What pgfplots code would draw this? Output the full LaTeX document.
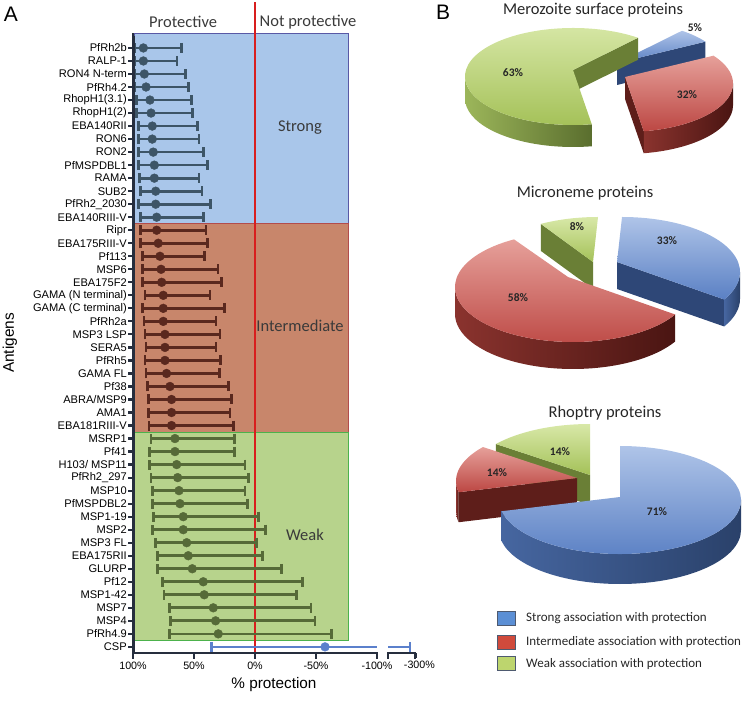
\documentclass[border=0pt]{standalone}
\usepackage{pgfplots}
\pgfplotsset{compat=1.18}
\usepackage{pgfplotstable}
\usetikzlibrary{calc}
\usepackage{fontspec}
\setmainfont{Liberation Sans}
\newfontfamily\calfont{Carlito}

\definecolor{axk}{HTML}{262E3E}
\definecolor{bgS}{HTML}{A9C6EA}
\definecolor{bgI}{HTML}{C8866B}
\definecolor{bgW}{HTML}{B7D38C}
\definecolor{mkS}{HTML}{3D5567}
\definecolor{mkI}{HTML}{5A281E}
\definecolor{mkW}{HTML}{566A38}
\definecolor{mkC}{HTML}{5B80CC}
\definecolor{redline}{HTML}{D81E1E}
\definecolor{txt}{HTML}{3A3A3A}
% pie colours
\definecolor{BT1}{HTML}{AFC4E8}\definecolor{BT2}{HTML}{5A80C4}
\definecolor{BS1}{HTML}{4666A0}\definecolor{BS2}{HTML}{2A416A}\definecolor{BF}{HTML}{2E4777}
\definecolor{RT1}{HTML}{E6A09A}\definecolor{RT2}{HTML}{BC4743}
\definecolor{RS1}{HTML}{8A332E}\definecolor{RS2}{HTML}{4A1512}\definecolor{RF}{HTML}{5E1E1A}
\definecolor{GT1}{HTML}{D8E8A8}\definecolor{GT2}{HTML}{A4C158}
\definecolor{GS1}{HTML}{9CB65A}\definecolor{GS2}{HTML}{5A6E2E}\definecolor{GF}{HTML}{6A7F36}
\definecolor{LB}{HTML}{5B8FD5}\definecolor{LR}{HTML}{D04A3C}\definecolor{LG}{HTML}{BDD56E}
\definecolor{LBd}{HTML}{4E5A70}

% % protection: y = row (46 = top), m = mean, l = upper protection bound, r = lower bound
\pgfplotstableread{
y m l r
46 91.5 99 60.0
45 91.5 99 64.0
44 90.7 99 57.0
43 89.3 99 54.5
42 86.1 97.0 52.0
41 85.2 97.0 51.4
40 84.2 95.6 47.0
39 84.2 95.6 45.9
38 83.4 95.6 42.1
37 82.5 95.6 38.8
36 82.5 94.8 45.9
35 81.4 93.7 43.4
34 81.4 95.6 36.3
33 80.6 93.7 42.1
}\strong
\pgfplotstableread{
y m l r
32 80.6 93.7 40.2
31 79.3 93.7 39.1
30 77.9 92.1 41.3
29 77.0 92.1 30.4
28 76.5 92.1 27.7
27 75.2 90.2 36.9
26 75.2 92.1 25.2
25 75.2 91.0 32.0
24 73.8 90.2 28.7
23 73.8 89.3 32.0
22 73.8 90.2 28.1
21 72.5 89.3 29.2
20 69.7 88.0 21.9
19 68.4 87.5 19.1
18 68.4 87.5 20.5
17 68.4 86.9 17.8
}\inter
\pgfplotstableread{
y m l r
16 65.6 85.2 17.0
15 65.6 86.6 17.0
14 64.2 86.6 8.2
13 63.4 85.2 5.5
12 62.3 84.2 8.2
11 61.5 84.2 6.3
10 58.8 83.4 -2.7
9 58.8 84.2 -8.8
8 56.0 81.4 -1.4
7 54.7 80.1 -6.0
6 51.4 80.1 -21.9
5 42.4 76.0 -38.8
4 41.6 74.6 -34.2
3 34.2 70.2 -45.9
2 32.3 69.1 -49.2
1 30.1 70.2 -62.9
}\weak
\pgfplotstableread{
y m
0 -57.4
}\csp

% pie helpers (coordinates in pixels, y downwards)
\newcommand{\ptop}[5]{\shade[top color=#5T1,bottom color=#5T2] (axis cs:#1,#2) -- ($(axis cs:{#1+\pOX},{#2+\pOY})+(#3:\pRX pt and \pRY pt)$) arc[start angle=#3,end angle=#4,x radius=\pRX pt,y radius=\pRY pt] -- cycle;}
\newcommand{\pside}[5]{\shade[left color=#5S1,right color=#5S2] ($(axis cs:{#1+\pOX},{#2+\pOY})+(#3:\pRX pt and \pRY pt)$) arc[start angle=#3,end angle=#4,x radius=\pRX pt,y radius=\pRY pt] -- ++(0,-\pH pt) arc[start angle=#4,end angle=#3,x radius=\pRX pt,y radius=\pRY pt] -- cycle;}
\newcommand{\pface}[4]{\fill[#4F] (axis cs:#1,#2) -- ($(axis cs:{#1+\pOX},{#2+\pOY})+(#3:\pRX pt and \pRY pt)$) -- ++(0,-\pH pt) -- ([yshift=-\pH pt]axis cs:#1,#2) -- cycle;}

\pgfplotsset{pxlayer/.style={at={(0,0)}, anchor=south west, scale only axis, width=747pt, height=703pt, xmin=0, xmax=747, ymin=0, ymax=703, y dir=reverse, hide axis, clip=false}}

\begin{document}
\begin{tikzpicture}
\path[use as bounding box] (0,0) rectangle (747pt,703pt);

% main forest plot, 100% ... -100% (plotted as x = -%protection)
\begin{axis}[
  at={(133pt,50pt)}, anchor=south west,
  scale only axis, width=244pt, height=620pt,
  xmin=-100, xmax=100, ymin=-0.47, ymax=47.15,
  clip=false,
  axis x line*=bottom, axis y line*=left,
  axis line style={draw=axk, line width=2.8pt},
  tick align=outside, major tick length=5pt,
  ytick={0,...,46},
  yticklabels={CSP,PfRh4.9,MSP4,MSP7,MSP1-42,Pf12,GLURP,EBA175RII,MSP3 FL,MSP2,MSP1-19,PfMSPDBL2,MSP10,PfRh2\_297,H103/ MSP11,Pf41,MSRP1,EBA181RIII-V,AMA1,ABRA/MSP9,Pf38,GAMA FL,PfRh5,SERA5,MSP3 LSP,PfRh2a,{GAMA (C terminal)},{GAMA (N terminal)},EBA175F2,MSP6,Pf113,EBA175RIII-V,Ripr,EBA140RIII-V,PfRh2\_2030,SUB2,RAMA,PfMSPDBL1,RON2,RON6,EBA140RII,RhopH1(2),RhopH1(3.1),PfRh4.2,RON4 N-term,RALP-1,PfRh2b},
  xtick={-100,-50,0,50,100},
  xticklabels={100\%,50\%,0\%,-50\%,-100\%},
  tick style={draw=axk, line width=2.2pt},
  yticklabel style={font=\fontsize{11.1}{12}\selectfont, inner sep=1pt},
  xticklabel style={font=\fontsize{10.7}{12}\selectfont},
  xlabel={\% protection},
  xlabel style={font=\fontsize{15.3}{17}\selectfont, xshift=19pt, yshift=-1pt},
]
\fill[bgS, draw=gray!70!blue, line width=0.6pt] (axis cs:-98.7,47.15) rectangle (axis cs:76.2,32.5);
\fill[bgI, draw=gray!60!red, line width=0.6pt] (axis cs:-98.7,32.5) rectangle (axis cs:76.2,16.5);
\fill[bgW, draw=gray!60!green, line width=0.6pt] (axis cs:-98.7,16.5) rectangle (axis cs:76.2,0.5);
\draw[redline, line width=1.6pt] (axis cs:0,49.5) -- (axis cs:0,-0.47);

\addplot[only marks, mark=*, mark size=4.4pt, color=mkS,
  error bars/.cd, x dir=both, x explicit, error mark=|,
  error bar style={line width=2.7pt, color=mkS},
  error mark options={line width=2.7pt, mark size=5pt, color=mkS}]
  table[x expr=-\thisrow{m}, y=y, x error plus expr=\thisrow{m}-\thisrow{r}, x error minus expr=\thisrow{l}-\thisrow{m}] {\strong};
\addplot[only marks, mark=*, mark size=4.4pt, color=mkI,
  error bars/.cd, x dir=both, x explicit, error mark=|,
  error bar style={line width=2.7pt, color=mkI},
  error mark options={line width=2.7pt, mark size=5pt, color=mkI}]
  table[x expr=-\thisrow{m}, y=y, x error plus expr=\thisrow{m}-\thisrow{r}, x error minus expr=\thisrow{l}-\thisrow{m}] {\inter};
\addplot[only marks, mark=*, mark size=4.4pt, color=mkW,
  error bars/.cd, x dir=both, x explicit, error mark=|,
  error bar style={line width=2.7pt, color=mkW},
  error mark options={line width=2.7pt, mark size=5pt, color=mkW}]
  table[x expr=-\thisrow{m}, y=y, x error plus expr=\thisrow{m}-\thisrow{r}, x error minus expr=\thisrow{l}-\thisrow{m}] {\weak};
% CSP: lower bound 35.5%, runs past -100% onto the broken part of the axis
\addplot[mkC, line width=2.4pt, mark=|, mark size=5pt, mark indices={1}] coordinates {(-35.5,0) (100,0)};
\addplot[only marks, mark=*, mark size=4.4pt, color=mkC] table[x expr=-\thisrow{m}, y=y] {\csp};
\end{axis}

% broken part of the x axis, ending at -300%
\begin{axis}[
  at={(388pt,50pt)}, anchor=south west,
  scale only axis, width=27.4pt, height=620pt,
  xmin=108.6, xmax=131.1, ymin=-0.47, ymax=47.15,
  clip=false,
  axis x line*=bottom, axis y line=none,
  axis line style={draw=axk, line width=2.8pt},
  tick align=outside, major tick length=5pt,
  xtick={108.6,131.1}, xticklabels={,-300\%},
  tick style={draw=axk, line width=2.2pt},
  xticklabel style={font=\fontsize{10.7}{12}\selectfont, xshift=4pt},
]
\addplot[mkC, line width=2.4pt, mark=|, mark size=5pt, mark indices={2}] coordinates {(108.6,0) (126.6,0)};
\end{axis}

% Merozoite surface proteins: 5 / 32 / 63 %
\def\pRX{108}\def\pRY{48.5}\def\pH{22}\def\pOX{0}\def\pOY{6.5}
\begin{axis}[pxlayer]
\pface{617}{63}{35}{B}\ptop{617}{63}{35}{53}{B}
\pface{573}{70}{53}{G}\pside{573}{70}{180}{280}{G}\ptop{573}{70}{53}{280}{G}
\pface{625}{77}{-80}{R}\pside{625}{77}{-80}{0}{R}\ptop{625}{77}{-80}{35}{R}
\end{axis}
% Microneme proteins: 33 / 58 / 8 %
\def\pRX{118}\def\pRY{55}\def\pH{27}\def\pOX{5}\def\pOY{10}
\begin{axis}[pxlayer]
\pface{593}{262}{119}{G}\ptop{593}{262}{90}{119}{G}
\pface{617}{262}{-30}{B}\pside{617}{262}{-30}{0}{B}\ptop{617}{262}{-30}{90}{B}
\pside{568}{277}{180}{330}{R}\ptop{568}{277}{120}{330}{R}
\end{axis}
% Rhoptry proteins: 71 / 14 / 14 %
\def\pRX{121}\def\pRY{54}\def\pH{30}\def\pOX{0}\def\pOY{3}
\begin{axis}[pxlayer]
\pface{590}{475}{141}{G}\ptop{590}{475}{90}{141}{G}
\pface{577}{478}{192}{R}\pside{577}{478}{180}{192}{R}\ptop{577}{478}{141}{192}{R}
\pside{620}{497}{192}{360}{B}\ptop{620}{497}{192}{450}{B}
\end{axis}

\begin{axis}[pxlayer]
% axis frame of panel A (pixel positions), drawn as filled bars
\fill[axk] (axis cs:131.5,36) rectangle (axis cs:134.5,654.4);
\fill[axk] (axis cs:131.5,651.6) rectangle (axis cs:377.6,654.4);
\fill[axk] (axis cs:387.4,651.6) rectangle (axis cs:415.6,654.4);
\pgfplotsinvokeforeach{0,...,46}{\fill[axk] (axis cs:127.5,{47+13.02*#1}) rectangle (axis cs:133,{49+13.02*#1});}
\pgfplotsinvokeforeach{133,194,255,316,377,388,415}{\fill[axk] (axis cs:{#1-1.2},653) rectangle (axis cs:{#1+1.2},659);}
\node[font=\fontsize{21}{24}\selectfont] at (axis cs:11,14) {A};
\node[font=\fontsize{21}{24}\selectfont] at (axis cs:443,12) {B};
\node[font=\calfont\fontsize{16.5}{18}\selectfont, text=txt] at (axis cs:183,22) {Protective};
\node[font=\calfont\fontsize{16.5}{18}\selectfont, text=txt] at (axis cs:308,22) {Not protective};
\node[font=\calfont\fontsize{16.5}{18}\selectfont, text=txt] at (axis cs:300,128) {Strong};
\node[font=\calfont\fontsize{16.5}{18}\selectfont, text=txt] at (axis cs:300,326) {Intermediate};
\node[font=\calfont\fontsize{16.5}{18}\selectfont, text=txt] at (axis cs:305,535) {Weak};
\node[font=\fontsize{15.4}{17}\selectfont, rotate=90] at (axis cs:10,343) {Antigens};
\node[font=\calfont\fontsize{16.5}{18}\selectfont, text=black!85] at (axis cs:593,10) {Merozoite surface proteins};
\node[font=\calfont\fontsize{16.5}{18}\selectfont, text=black!85] at (axis cs:585,193) {Microneme proteins};
\node[font=\calfont\fontsize{16.5}{18}\selectfont, text=black!85] at (axis cs:605,413) {Rhoptry proteins};
\tikzset{pct/.style={font=\calfont\bfseries\fontsize{11.5}{13}\selectfont, text=black!85}}
\node[pct] at (axis cs:695,28) {5\%};
\node[pct] at (axis cs:513,73) {63\%};
\node[pct] at (axis cs:687,95) {32\%};
\node[pct] at (axis cs:577,227) {8\%};
\node[pct] at (axis cs:667,241) {33\%};
\node[pct] at (axis cs:518,298) {58\%};
\node[pct] at (axis cs:560,452) {14\%};
\node[pct] at (axis cs:497,473) {14\%};
\node[pct] at (axis cs:657,512) {71\%};
\fill[LBd] (axis cs:497.4,611.4) rectangle (axis cs:515.6,625.6);
\fill[LB] (axis cs:498.2,612.2) rectangle (axis cs:514.8,624.8);
\fill[LBd] (axis cs:497.4,635.4) rectangle (axis cs:515.6,649.6);
\fill[LR] (axis cs:498.2,636.2) rectangle (axis cs:514.8,648.8);
\fill[LBd] (axis cs:497.4,656.4) rectangle (axis cs:515.6,670.6);
\fill[LG] (axis cs:498.2,657.2) rectangle (axis cs:514.8,669.8);
\tikzset{leg/.style={font=\calfont\fontsize{13}{15}\selectfont, anchor=west, text=black!85, inner sep=0pt}}
\node[leg] at (axis cs:526,618) {Strong association with protection};
\node[leg] at (axis cs:526,642) {Intermediate association with protection};
\node[leg] at (axis cs:526,664) {Weak association with protection};
\end{axis}
\end{tikzpicture}
\end{document}
